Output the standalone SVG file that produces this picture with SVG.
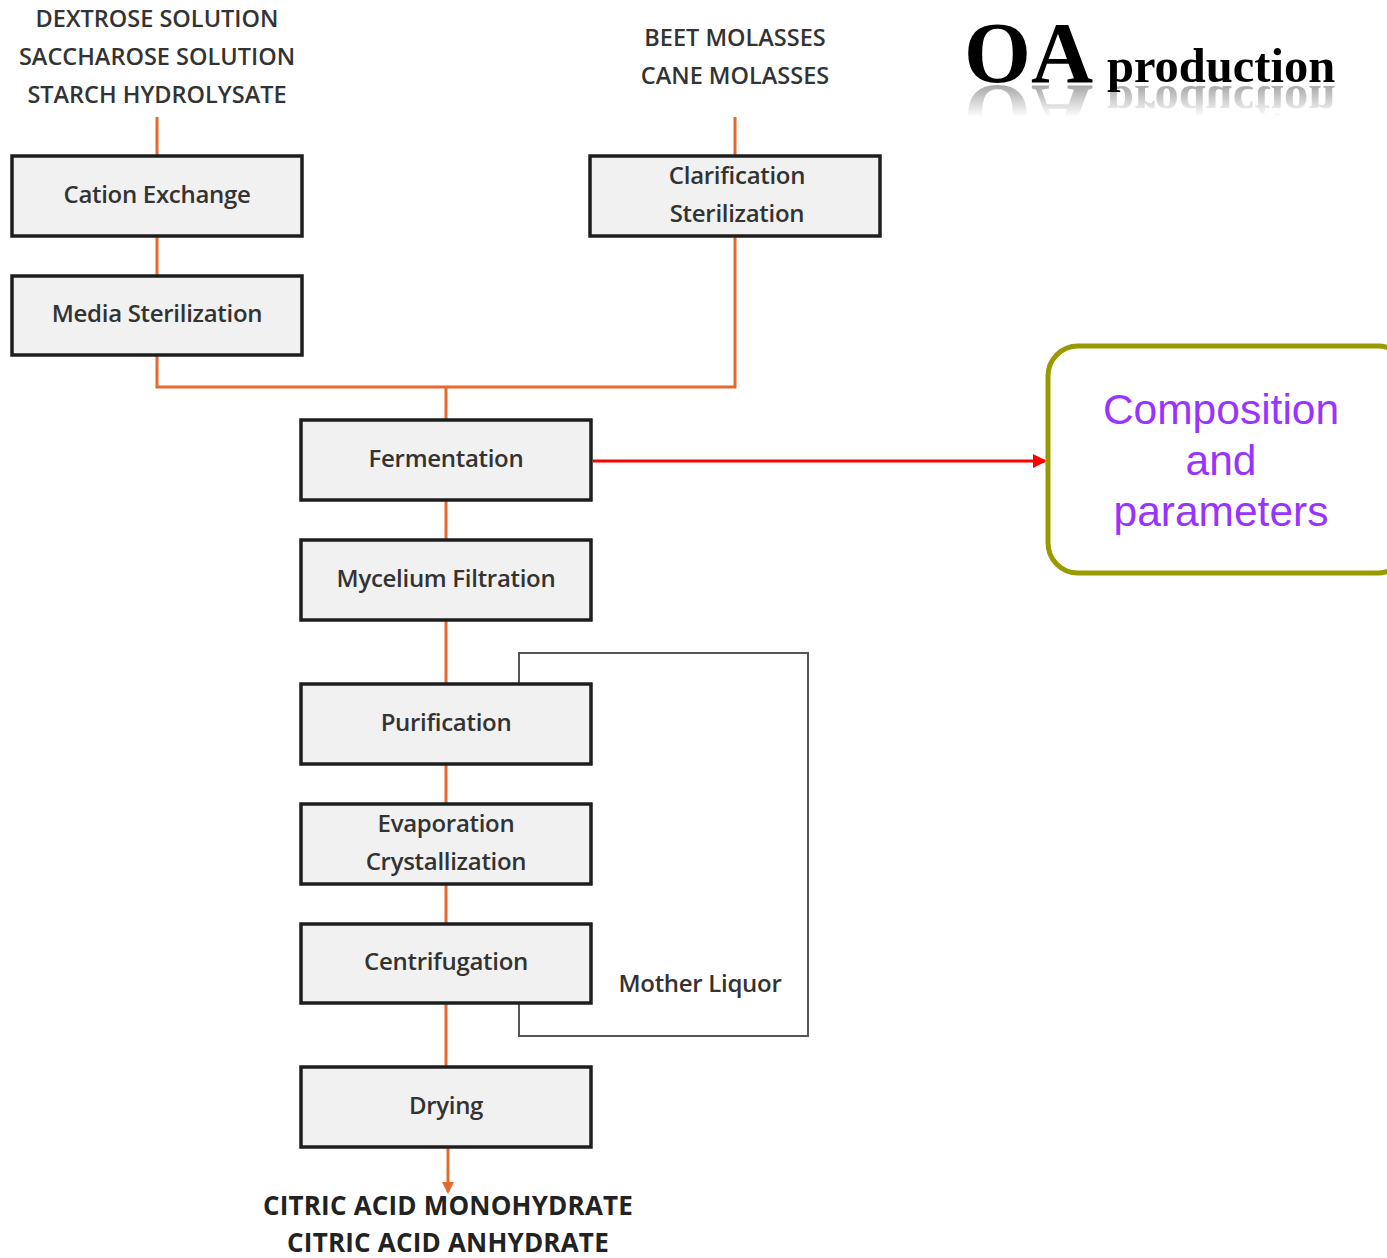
<svg xmlns="http://www.w3.org/2000/svg" width="1387" height="1258" viewBox="0 0 1387 1258">
<style>
.box{fill:#f1f1f1;stroke:#1e1e1e;stroke-width:3.5}
.lbl{font-family:"Open Sans","DejaVu Sans",sans-serif;font-size:24px;font-weight:600;fill:#333;text-anchor:middle;letter-spacing:-0.3px}
.cap{font-family:"Open Sans","DejaVu Sans",sans-serif;font-size:23.5px;font-weight:600;fill:#333;text-anchor:middle;letter-spacing:0px}
.bot{font-family:"Open Sans","DejaVu Sans",sans-serif;font-size:26px;font-weight:bold;fill:#222;text-anchor:middle;letter-spacing:0.2px}
.or{stroke:#e5692c;stroke-width:3;fill:none}
.comp{font-family:"Liberation Sans",Arial,sans-serif;font-size:42.5px;fill:#9933ff;text-anchor:middle}
.title{font-family:"Liberation Serif","Times New Roman",serif;font-weight:bold;fill:#000}
</style>
<defs>
<marker id="ao" markerWidth="12" markerHeight="12" refX="10" refY="6" orient="auto" markerUnits="userSpaceOnUse"><path d="M0,0 L12,6 L0,12 Z" fill="#e5692c"/></marker>
<marker id="ar" markerWidth="14" markerHeight="14" refX="12" refY="7" orient="auto" markerUnits="userSpaceOnUse"><path d="M0,0 L14,7 L0,14 Z" fill="#ff0000"/></marker>
<linearGradient id="fade" x1="0" y1="0" x2="0" y2="1"><stop offset="0" stop-color="#fff" stop-opacity="0.35"/><stop offset="1" stop-color="#fff" stop-opacity="0"/></linearGradient>
<mask id="rm" maskUnits="userSpaceOnUse" x="950" y="84" width="437" height="45"><rect x="950" y="85" width="437" height="32" fill="url(#fade)"/></mask>
</defs>

<g id="title">
<text class="title" x="964" y="82" font-size="86">OA</text>
<text class="title" x="1107" y="82" font-size="48.5">production</text>
<g mask="url(#rm)">
<g transform="translate(0,168) scale(1,-1)">
<text class="title" x="964" y="82" font-size="86" fill="#888">OA</text>
<text class="title" x="1107" y="82" font-size="48.5" fill="#888">production</text>
</g>
</g>
</g>

<g id="inputs-left">
<text class="cap" x="157" y="27">DEXTROSE SOLUTION</text>
<text class="cap" x="157" y="65">SACCHAROSE SOLUTION</text>
<text class="cap" x="157" y="103">STARCH HYDROLYSATE</text>
</g>
<g id="inputs-right">
<text class="cap" x="735" y="46">BEET MOLASSES</text>
<text class="cap" x="735" y="84">CANE MOLASSES</text>
</g>

<g id="connectors">
<path class="or" d="M157,117 V156 M157,236 V276 M157,355 V387 H735 V236 M735,117 V156 M446,387 V420 M446,500 V540 M446,620 V684 M446,764 V804 M446,884 V924 M446,1003 V1067"/>
<path class="or" d="M448,1147 V1192" marker-end="url(#ao)"/>
<path d="M519,684 V653 H808 V1036 H519 V1003" fill="none" stroke="#555" stroke-width="2"/>
<path d="M593,461 H1045" stroke="#ff0000" stroke-width="3" fill="none" marker-end="url(#ar)"/>
</g>

<g id="cation"><rect class="box" x="12" y="156" width="290" height="80"/><text class="lbl" x="157" y="203">Cation Exchange</text></g>
<g id="media"><rect class="box" x="12" y="276" width="290" height="79"/><text class="lbl" x="157" y="322">Media Sterilization</text></g>
<g id="clarif"><rect class="box" x="590" y="156" width="290" height="80"/><text class="lbl" x="737" y="184">Clarification</text><text class="lbl" x="737" y="222">Sterilization</text></g>
<g id="ferment"><rect class="box" x="301" y="420" width="290" height="80"/><text class="lbl" x="446" y="467">Fermentation</text></g>
<g id="mycelium"><rect class="box" x="301" y="540" width="290" height="80"/><text class="lbl" x="446" y="587">Mycelium Filtration</text></g>
<g id="purif"><rect class="box" x="301" y="684" width="290" height="80"/><text class="lbl" x="446" y="731">Purification</text></g>
<g id="evap"><rect class="box" x="301" y="804" width="290" height="80"/><text class="lbl" x="446" y="832">Evaporation</text><text class="lbl" x="446" y="870">Crystallization</text></g>
<g id="centri"><rect class="box" x="301" y="924" width="290" height="79"/><text class="lbl" x="446" y="970">Centrifugation</text></g>
<g id="drying"><rect class="box" x="301" y="1067" width="290" height="80"/><text class="lbl" x="446" y="1114">Drying</text></g>

<g id="mother"><text class="lbl" x="700" y="992">Mother Liquor</text></g>

<g id="outputs">
<text class="bot" x="448" y="1215">CITRIC ACID MONOHYDRATE</text>
<text class="bot" x="448" y="1252">CITRIC ACID ANHYDRATE</text>
</g>

<g id="composition">
<rect x="1048" y="346" width="360" height="227" rx="30" ry="30" fill="#fff" stroke="#999900" stroke-width="5"/>
<text class="comp" x="1221" y="424">Composition</text>
<text class="comp" x="1221" y="475">and</text>
<text class="comp" x="1221" y="526">parameters</text>
</g>
</svg>
